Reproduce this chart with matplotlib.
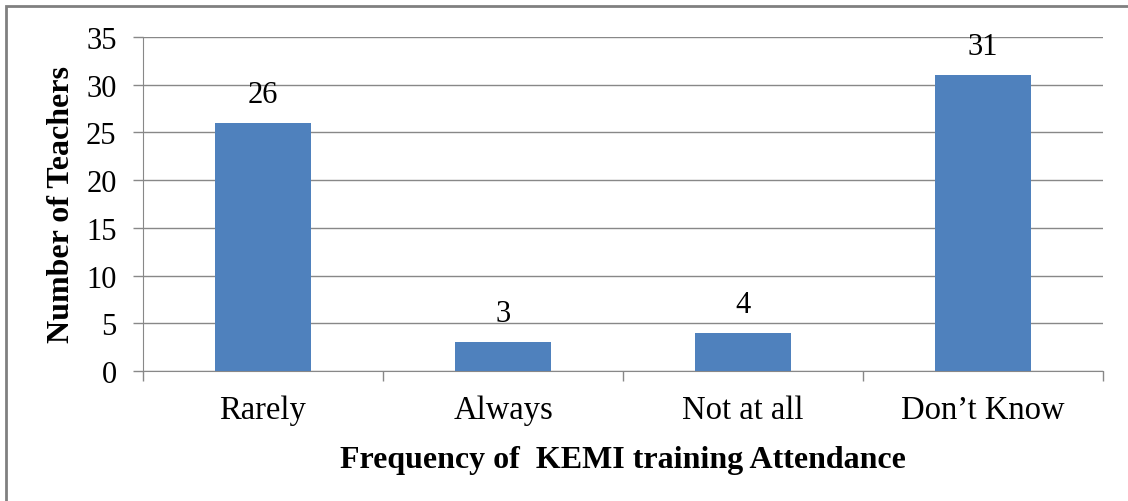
import matplotlib.pyplot as plt
from matplotlib.patches import Rectangle

categories = ['Rarely', 'Always', 'Not at all', 'Don\u2019t Know']
teachers = [26, 3, 4, 31]
yticks = [0, 5, 10, 15, 20, 25, 30, 35]

plt.rcParams['font.family'] = ['Liberation Serif', 'DejaVu Serif']

fig = plt.figure(figsize=(11.28, 5.02), dpi=100)
ax = fig.add_axes([143/1128, 1 - 372/502, 960/1128, 334/502])

x = range(len(categories))
bars = ax.bar(x, teachers, width=0.4, color='#4F81BD', zorder=3)
for b, v in zip(bars, teachers):
    ax.annotate(str(v), (b.get_x() + b.get_width()/2, v), xytext=(0, 10),
                textcoords='offset points', ha='center', va='bottom', fontsize=22)

ax.set_xlim(-0.5, len(categories) - 0.5)
ax.set_ylim(0, 35)
ax.set_yticks(yticks)
ax.tick_params(axis='y', labelsize=22, length=7, width=1, color='#888888', pad=12)
ax.yaxis.grid(True, color='#888888', linewidth=1, zorder=0)

# category labels in the middle, tick marks on the boundaries
ax.set_xticks(list(x))
ax.set_xticklabels(categories, fontsize=23.5)
ax.tick_params(axis='x', length=0, pad=17)
ax.set_xticks([i - 0.5 for i in range(len(categories) + 1)], minor=True)
ax.tick_params(axis='x', which='minor', length=7, width=1, color='#888888')

for side in ['top', 'right']:
    ax.spines[side].set_visible(False)
ax.spines['left'].set_color('#888888')
ax.spines['bottom'].set_color('#888888')

ax.set_ylabel('Number of Teachers', fontsize=23, fontweight='bold', labelpad=7)
ax.set_xlabel('Frequency of  KEMI training Attendance', fontsize=23,
              fontweight='bold', labelpad=14)

# outer chart frame (only left and top edges fall inside the image)
fig.patches.append(Rectangle((6/1128, -0.05), 1.1, 1.05 - 7/502,
                             transform=fig.transFigure, fill=False,
                             edgecolor='#808080', linewidth=2))

fig.savefig('out.png', dpi=100)
